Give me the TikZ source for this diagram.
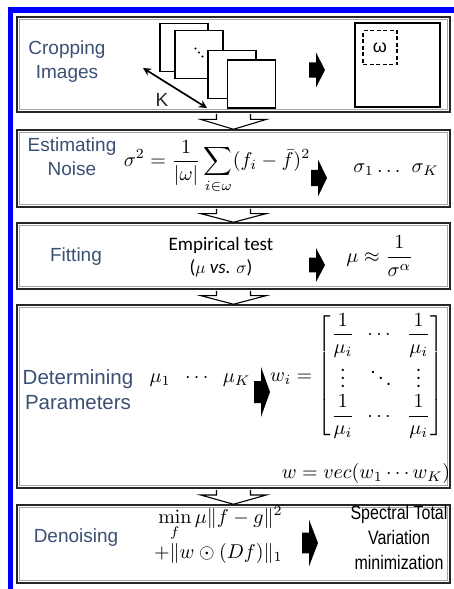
\documentclass[tikz,border=0pt]{standalone}
\usepackage{amsmath}
\usepackage[no-math]{fontspec}
\setmainfont{Liberation Sans}
\newfontfamily\calib{Carlito}
\newfontfamily\narrowsans[FakeStretch=0.82]{Liberation Sans}
\usetikzlibrary{calc,arrows.meta}
\definecolor{lblblue}{RGB}{58,80,116}
\definecolor{frameblue}{RGB}{0,0,255}
\newcommand\hollowarr[2]{%
  \coordinate (hm) at ($(#1.south)!0.4!(#2.north)$);
  \filldraw[hol] ($(#1.south)+(-17,1)$) -- ($(hm)+(-17,0)$) -- ($(hm)+(-33,0)$)
     -- (#2.north) -- ($(hm)+(33,0)$) -- ($(hm)+(17,0)$) -- ($(#1.south)+(17,1)$);
}
\newcommand\blkarr[3]{%
  \fill (#1-7,#2-0.22*#3) -- (#1,#2-0.22*#3) -- (#1,#2-0.5*#3) -- (#1+9,#2)
     -- (#1,#2+0.5*#3) -- (#1,#2+0.22*#3) -- (#1-7,#2+0.22*#3) -- cycle;
}
\newcommand\innerline[1]{%
  \draw[black!35, line width=0.6pt] ($(#1.south west)+(3,-3)$) rectangle ($(#1.north east)+(-3,3)$);
}
\begin{document}
\begin{tikzpicture}[x=1pt,y=-1pt,
  box/.style={draw=black!85, line width=1.5pt, minimum width=433pt, inner sep=0pt},
  lbl/.style={text=lblblue, font=\fontsize{19}{24}\selectfont, align=center},
  mth/.style={scale=2, inner sep=0pt},
  imgsq/.style={draw, fill=white, line width=1.4pt, minimum size=48pt, inner sep=0pt},
  hol/.style={fill=white, draw=black, line width=1.1pt},
  nar/.style={font=\narrowsans\fontsize{19.5}{25}\selectfont, align=center}]
\useasboundingbox (0,0) rectangle (454,589);
\fill[white] (0,0) rectangle (454,589);
\draw[frameblue, line width=5.5pt] (10.5,589) -- (10.5,10) -- (454,10);

% boxes
\node[box, minimum height=95pt] (b1) at (233.5,64.5) {};
\node[box, minimum height=77pt] (b2) at (233.5,168.5) {};
\node[box, minimum height=66pt] (b3) at (233.5,256) {};
\node[box, minimum height=183pt] (b4) at (233.5,396.5) {};
\node[box, minimum height=78pt] (b5) at (233.5,544) {};
\innerline{b1}\innerline{b2}\innerline{b3}\innerline{b4}\innerline{b5}

\hollowarr{b1}{b2}
\hollowarr{b2}{b3}
\hollowarr{b3}{b4}
\hollowarr{b4}{b5}

% box 1
\node[lbl] (l1) at (67,62) {Cropping\\Images};
\node[imgsq] (s1) at (184,47.5) {};
\node[imgsq] (s2) at (199,54.5) {};
\node[imgsq] (s3) at (232,74.5) {};
\node[imgsq] (s4) at (251.5,84) {};
\fill (195.5,48.5) circle (1.1) (199,52.5) circle (1.1) (202.5,56.5) circle (1.1);
\coordinate (ka) at (143,68);
\coordinate (kb) at (207,108);
\draw[{Stealth[length=8pt,width=8pt]}-{Stealth[length=8pt,width=8pt]}, line width=1.7pt] (ka) -- (kb);
\node[font=\fontsize{19}{19}\selectfont, text=black!85] (k) at (162,100) {K};
\blkarr{316}{70}{35}
\node[draw, line width=1.4pt, minimum width=85pt, minimum height=84pt, inner sep=0pt] (big) at (397.5,65) {};
\node[draw, dashed, dash pattern=on 4pt off 2.5pt, line width=1.4pt, minimum size=34pt, inner sep=0pt,
      font=\fontsize{18}{18}\selectfont] (roi) at (380,47.5) {ω};

% box 2
\node[lbl] (l2) at (72,157) {Estimating\\Noise};
\node[mth] (f2) at (217,167) {$\displaystyle \sigma^2=\frac{1}{|\omega|}\sum_{i\in\omega}(f_i-\bar{f})^2$};
\blkarr{318}{178}{37}
\node[mth] (s2r) at (396,170) {$\sigma_1\,.\,.\,.\;\;\sigma_K$};

% box 3
\node[lbl] (l3) at (76,257) {Fitting};
\node[font=\calib\fontsize{19}{23}\selectfont, align=center] (emp) at (221,257) {Empirical test\\(\textit{$\mu$ vs. $\sigma$})};
\blkarr{316}{265}{34}
\node[mth] (f3) at (380,256) {$\displaystyle \mu\approx\frac{1}{\sigma^{\alpha}}$};

% box 4
\node[lbl, font=\fontsize{20.5}{25}\selectfont] (l4) at (78,390) {Determining\\Parameters};
\node[mth] (mus) at (200,380) {$\mu_1\ \ \cdots\ \ \mu_K$};
\blkarr{261}{392}{50}
\node[mth] (wi) at (357,376) {\setlength\arraycolsep{3.2pt}$\displaystyle w_i=\begin{bmatrix}\dfrac{1}{\mu_i} & \cdots & \dfrac{1}{\mu_i}\\ \vdots & \ddots & \vdots\\ \dfrac{1}{\mu_i} & \cdots & \dfrac{1}{\mu_i}\end{bmatrix}$};
\node[mth] (w) at (366,473) {$w=vec(w_1\cdots w_K)$};

% box 5
\node[lbl] (l5) at (76,538) {Denoising};
\node[mth, align=right, anchor=east] (f5) at (283,535) {$\displaystyle \min_f \mu\|f-g\|^2$\\$+\|w\odot(Df)\|_1$};
\blkarr{309}{543}{47}
\node[nar] (res) at (399,538) {Spectral Total\\Variation\\minimization};
\end{tikzpicture}
\end{document}
